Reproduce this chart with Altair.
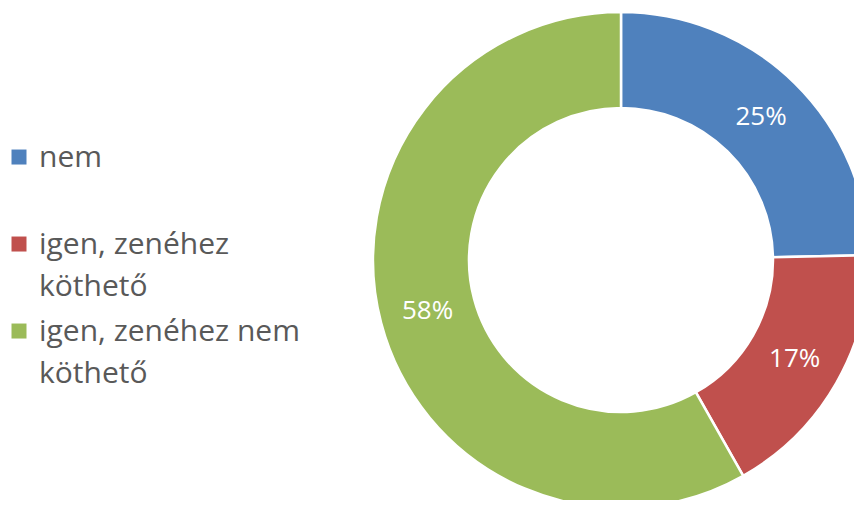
import altair as alt
import pandas as pd

categories = ["nem", "igen, zenéhez köthető", "igen, zenéhez nem köthető"]
values = [0.247, 0.171, 0.582]
colors = ["#4F81BD", "#C0504D", "#9BBB59"]

df = pd.DataFrame({"cat": categories, "value": values, "idx": list(range(len(categories)))})

label_expr = (
    "datum.label == 'igen, zenéhez köthető' ? ['igen, zenéhez', 'köthető'] : "
    "datum.label == 'igen, zenéhez nem köthető' ? ['igen, zenéhez nem', 'köthető'] : "
    "[datum.label, '']"
)

base = alt.Chart(df).encode(
    theta=alt.Theta("value:Q", stack=True),
    order=alt.Order("idx:Q"),
)

arc = base.mark_arc(innerRadius=152, outerRadius=248, stroke="white", strokeWidth=2.5).encode(
    color=alt.Color(
        "cat:N",
        scale=alt.Scale(domain=categories, range=colors),
        sort=categories,
        legend=alt.Legend(
            title=None,
            orient="none",
            legendX=-4,
            legendY=120,
            symbolType="M-1,0.87H1V2.87H-1Z",
            symbolSize=225,
            symbolStrokeWidth=0,
            labelFont="Open Sans",
            labelFontSize=30,
            labelColor="#595959",
            labelOffset=5,
            labelLimit=500,
            labelExpr=label_expr,
            labelBaseline="top",
            rowPadding=-2,
            padding=0,
        ),
    ),
    x=alt.value(613),
    y=alt.value(252),
)

text = base.mark_text(radius=200, fontSize=26, color="white", font="Open Sans").encode(
    text=alt.Text("value:Q", format=".0%"),
    x=alt.value(613),
    y=alt.value(252),
)

chart = (
    alt.layer(arc, text)
    .properties(width=846, height=492, autosize=alt.AutoSizeParams(type="none"), padding=0)
    .configure(background="white", style={"guide-label": {"lineHeight": 42}})
    .configure_view(stroke=None)
)

chart.save("out.html", embed_options={"renderer": "svg", "actions": False})
